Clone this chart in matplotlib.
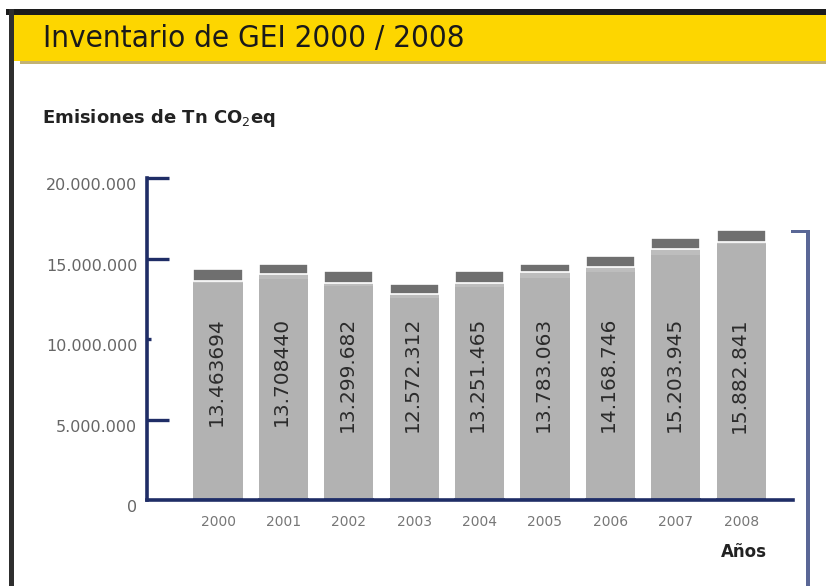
import numpy as np
import matplotlib
matplotlib.use("Agg")
import matplotlib.pyplot as plt
from matplotlib import patches
import matplotlib.transforms as mtransforms

# ===============================================================================
# data

years = ['2000', '2001', '2002', '2003', '2004', '2005', '2006', '2007', '2008']
co2eq = [13463694, 13708440, 13299682, 12572312, 13251465, 13783063, 14168746, 15203945, 15882841]
valueLabels = ['13.463694', '13.708440', '13.299.682', '12.572.312', '13.251.465',
               '13.783.063', '14.168.746', '15.203.945', '15.882.841']
bandPart = [150000, 300000, 170000, 230000, 250000, 400000, 280000, 370000, 140000]
darkPart = [740000, 650000, 750000, 620000, 720000, 480000, 700000, 700000, 750000]
yTicks = [0, 5000000, 10000000, 15000000, 20000000]
yTickLabels = ['0', '5.000.000', '10.000.000', '15.000.000', '20.000.000']

title = 'Inventario de GEI 2000 / 2008'
subtitle = 'Emisiones de Tn CO$_2$eq'
xName = 'Años'

# ===============================================================================

W, H = 826, 586
fig = plt.figure(figsize=(W / 100, H / 100), dpi=100)


def frac(x, y):
    return x / W, 1 - y / H


def rect(x0, y0, x1, y1, color):
    fx, fy = frac(x0, y1)
    fig.add_artist(patches.Rectangle((fx, fy), (x1 - x0) / W, (y1 - y0) / H,
                                     transform=fig.transFigure, color=color, lw=0, zorder=0))


# frame and header
rect(6, 9, W, 15, '#1c1c1c')
rect(9, 9, 14, H, '#2e2e2e')
rect(14, 15, W, 61, '#fdd600')
rect(20, 61, W, 64, '#c3b272')
fig.text(43 / W, 1 - 38 / H, title, fontsize=22.5, color='#1a1a1a', va='center', ha='left',
         fontstretch='condensed')
fig.text(42 / W, 1 - 118 / H, subtitle, fontsize=13, fontweight='bold', color='#222222',
         va='center', ha='left')
fig.text(767 / W, 1 - 552 / H, xName, fontsize=12, fontweight='bold', color='#222222',
         va='center', ha='right')

# right bracket
rect(806, 230, 810, H, '#5a6796')
rect(791, 230, 810, 233, '#5a6796')

# ===============================================================================

axL, axR, axT, axB = 147, 793, 178, 500
ax = fig.add_axes([axL / W, 1 - axB / H, (axR - axL) / W, (axB - axT) / H])
ax.set_facecolor('none')

x = np.arange(len(years))
spacing = 65.4
ax.set_xlim((axL - 218) / spacing, (axR - 218) / spacing)
ax.set_ylim(0, 20000000)

main = np.array(co2eq)
band = np.array(bandPart)
dark = np.array(darkPart)
ax.bar(x, main, width=0.75, color='#b2b2b2', zorder=2)
ax.bar(x, band, width=0.75, bottom=main, color='#bdbdbd', zorder=2)
ax.bar(x, dark, width=0.75, bottom=main + band, color='#6f6f6f', edgecolor='white',
       linewidth=1.2, zorder=2)
# thin blue-grey foot on each bar
ax.bar(x, 140000, width=0.77, color='#6a76a0', zorder=3)

for xi, lbl in zip(x, valueLabels):
    ax.text(xi - 0.03, 11370000, lbl, rotation=90, ha='center', va='top', fontsize=14.5,
            color='#2b2b2b', zorder=3)

navy = '#1f2d66'
for s in ['top', 'right']:
    ax.spines[s].set_visible(False)
ax.spines['left'].set_color(navy)
ax.spines['left'].set_linewidth(2.6)
ax.spines['bottom'].set_color(navy)
ax.spines['bottom'].set_linewidth(2.6)
ax.spines['bottom'].set_zorder(4)

ax.set_yticks(yTicks)
ax.set_yticklabels(yTickLabels)
ax.tick_params(axis='y', direction='in', length=16, width=2.4, color=navy,
               labelsize=11.5, labelcolor='#666666', pad=7)
ax.yaxis.get_major_ticks()[0].tick1line.set_visible(False)
ax.yaxis.get_major_ticks()[2].tick1line.set_markersize(3)
offset = mtransforms.ScaledTranslation(0, -6 / 100, fig.dpi_scale_trans)
for lab in ax.get_yticklabels():
    lab.set_transform(lab.get_transform() + offset)

ax.set_xticks(x)
ax.set_xticklabels(years)
ax.tick_params(axis='x', length=0, labelsize=10, labelcolor='#777777', pad=11)

fig.savefig('out.png', dpi=100)
